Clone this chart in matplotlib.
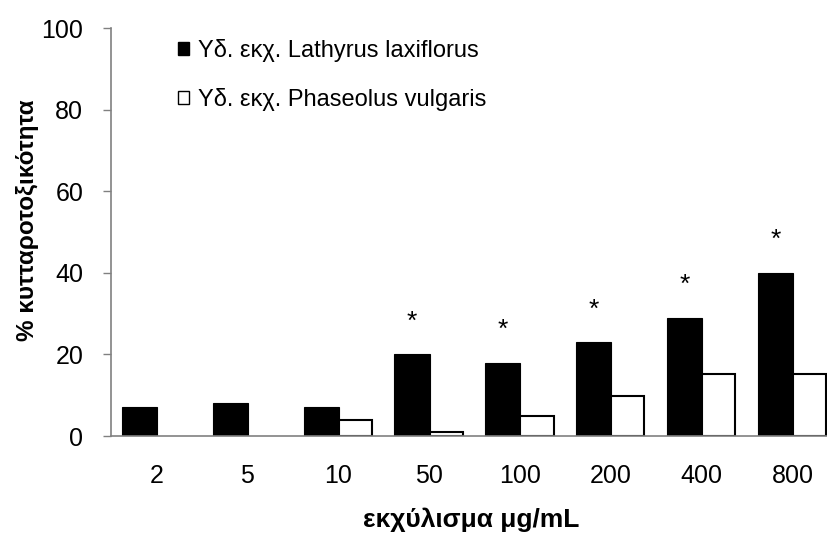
import numpy as np
import matplotlib.pyplot as plt
from matplotlib.patches import Patch

plt.rcParams['font.family'] = ['Liberation Sans', 'DejaVu Sans']

concentrations = ['2', '5', '10', '50', '100', '200', '400', '800']
lathyrus = [7, 8, 7, 20, 18, 23, 29, 40]
phaseolus = [np.nan, np.nan, 4, 1, 5, 9.7, 15.2, 15.2]
significant = [False, False, False, True, True, True, True, True]

fig = plt.figure(figsize=(8.27, 5.34), dpi=100)
ax = fig.add_axes([0.1342, 0.1835, 0.879, 0.764])

x = np.arange(len(concentrations))
ax.bar(x - 0.187, lathyrus, width=0.386, color='black', edgecolor='black', linewidth=0.8)
ax.bar(x + 0.188, phaseolus, width=0.364, color='white', edgecolor='black', linewidth=1.5)

for xi, v, sig in zip(x, lathyrus, significant):
    if sig:
        ax.text(xi - 0.187, v + 8, '*', ha='center', va='center', fontsize=19)

ax.set_xlim(-0.5, len(concentrations) - 0.5)
ax.set_ylim(0, 100)
ax.set_yticks(range(0, 101, 20))
ax.set_xticks(x)
ax.set_xticklabels(concentrations)
ax.tick_params(axis='x', length=0, pad=20, labelsize=18)
ax.tick_params(axis='y', length=6, width=1, color='#808080', direction='out', pad=14, labelsize=18)

for side in ['top', 'right']:
    ax.spines[side].set_visible(False)
for side in ['left', 'bottom']:
    ax.spines[side].set_color('#808080')
    ax.spines[side].set_linewidth(1.2)

ax.set_ylabel('% κυτταροτοξικότητα', fontsize=17.5, fontweight='bold', va='center')
ax.set_xlabel('εκχύλισμα μg/mL', fontsize=19, fontweight='bold', va='center')
ax.yaxis.set_label_coords(-0.1155, 0.53)
ax.xaxis.set_label_coords(0.496, -0.205)

handles = [
    Patch(facecolor='black', edgecolor='black', label='Yδ. εκχ. Lathyrus laxiflorus'),
    Patch(facecolor='white', edgecolor='black', label='Yδ. εκχ. Phaseolus vulgaris'),
]
ax.legend(handles=handles, loc='upper left', bbox_to_anchor=(0.063, 1.025), frameon=False,
          fontsize=17, handlelength=0.45, handleheight=0.45, handletextpad=0.4, labelspacing=1.1)

fig.savefig('out.png', dpi=100)
